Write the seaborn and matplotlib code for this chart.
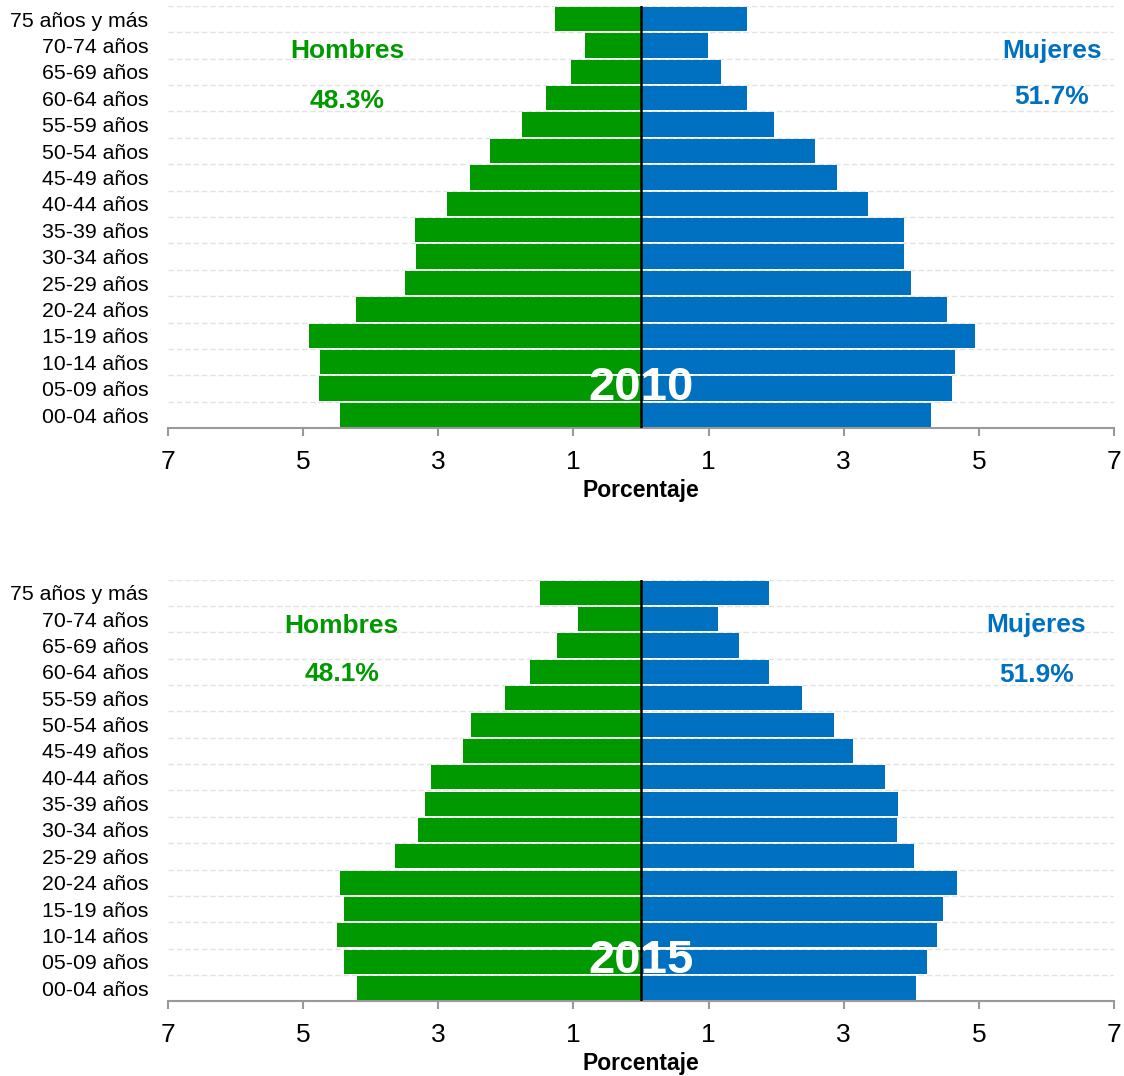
import numpy as np
import pandas as pd
import matplotlib
matplotlib.use("Agg")
import matplotlib.pyplot as plt
import seaborn as sns
from matplotlib.ticker import FuncFormatter

sns.set_style("white")
plt.rcParams["font.family"] = ["Liberation Sans", "DejaVu Sans"]
plt.rcParams["text.color"] = "black"
plt.rcParams["xtick.color"] = "black"
plt.rcParams["ytick.color"] = "black"
plt.rcParams["axes.labelcolor"] = "black"

# ---- datos ----
edades = ["75 años y más", "70-74 años", "65-69 años", "60-64 años", "55-59 años",
          "50-54 años", "45-49 años", "40-44 años", "35-39 años", "30-34 años",
          "25-29 años", "20-24 años", "15-19 años", "10-14 años", "05-09 años",
          "00-04 años"]

hombres_2010 = [1.27, 0.83, 1.04, 1.41, 1.76, 2.23, 2.53, 2.87, 3.34, 3.33,
                3.49, 4.22, 4.91, 4.75, 4.76, 4.45]
mujeres_2010 = [1.57, 0.99, 1.18, 1.57, 1.97, 2.57, 2.90, 3.36, 3.89, 3.89,
                3.99, 4.53, 4.94, 4.64, 4.60, 4.29]

hombres_2015 = [1.49, 0.93, 1.24, 1.64, 2.01, 2.51, 2.63, 3.11, 3.20, 3.30,
                3.64, 4.45, 4.39, 4.50, 4.39, 4.20]
mujeres_2015 = [1.89, 1.14, 1.45, 1.89, 2.38, 2.86, 3.14, 3.61, 3.80, 3.79,
                4.04, 4.67, 4.47, 4.38, 4.23, 4.07]

anios = ["2010", "2015"]
pct_hombres = ["48.3%", "48.1%"]
pct_mujeres = ["51.7%", "51.9%"]
xticks = [-7, -5, -3, -1, 1, 3, 5, 7]

VERDE = "#009900"
AZUL = "#0070C0"


def pyramid(ax, hombres, mujeres, anio, ph, pm, pos_h, pos_m):
    df = pd.DataFrame({
        "edad": edades * 2,
        "valor": [-v for v in hombres] + list(mujeres),
        "sexo": ["Hombres"] * len(edades) + ["Mujeres"] * len(edades),
    })
    # lineas guia punteadas entre grupos
    for y in np.arange(len(edades)) - 0.5:
        ax.axhline(y, color="#e3e3e3", lw=1, ls=(0, (4, 2)), zorder=0)
    sns.barplot(data=df, y="edad", x="valor", hue="sexo", order=edades,
                palette={"Hombres": VERDE, "Mujeres": AZUL}, dodge=False,
                width=0.92, saturation=1, linewidth=0, legend=False,
                ax=ax, zorder=2)
    ax.axvline(0, color="black", lw=1.8, zorder=3)
    ax.set_xlim(-7, 7)
    ax.set_ylim(len(edades) - 0.5, -0.5)
    ax.set_xticks(xticks)
    ax.xaxis.set_major_formatter(FuncFormatter(lambda v, p: f"{abs(v):g}"))
    ax.tick_params(axis="x", labelsize=19, length=6, width=1.5, color="#999999",
                   labelcolor="black", pad=10, bottom=True)
    ax.tick_params(axis="y", labelsize=15.3, length=0, pad=14, labelcolor="black")
    ax.set_xlabel("Porcentaje", fontsize=16.5, fontweight="bold", labelpad=3)
    ax.set_ylabel("")
    for s in ["top", "right", "left"]:
        ax.spines[s].set_visible(False)
    ax.spines["bottom"].set_color("#999999")
    ax.spines["bottom"].set_linewidth(1.5)

    ax.text(pos_h[0], pos_h[1], "Hombres", color=VERDE, fontsize=19,
            fontweight="bold", ha="center", va="center")
    ax.text(pos_h[0], pos_h[2], ph, color=VERDE, fontsize=19,
            fontweight="bold", ha="center", va="center")
    ax.text(pos_m[0], pos_m[1], "Mujeres", color=AZUL, fontsize=19,
            fontweight="bold", ha="center", va="center")
    ax.text(pos_m[0], pos_m[2], pm, color=AZUL, fontsize=19,
            fontweight="bold", ha="center", va="center")
    ax.text(0, 13.98, anio, color="white", fontsize=34, fontweight="bold",
            ha="center", va="center", zorder=4)


fig = plt.figure(figsize=(11.24, 10.76), dpi=100)
ax1 = fig.add_axes([0.1495, 0.6020, 0.8416, 0.3926])
ax2 = fig.add_axes([0.1495, 0.0695, 0.8416, 0.3917])

pyramid(ax1, hombres_2010, mujeres_2010, anios[0], pct_hombres[0], pct_mujeres[0],
        (-4.35, 1.2, 3.1), (6.08, 1.2, 2.95))
pyramid(ax2, hombres_2015, mujeres_2015, anios[1], pct_hombres[1], pct_mujeres[1],
        (-4.43, 1.25, 3.08), (5.85, 1.2, 3.1))

fig.savefig("out.png", dpi=100)
plt.close(fig)
